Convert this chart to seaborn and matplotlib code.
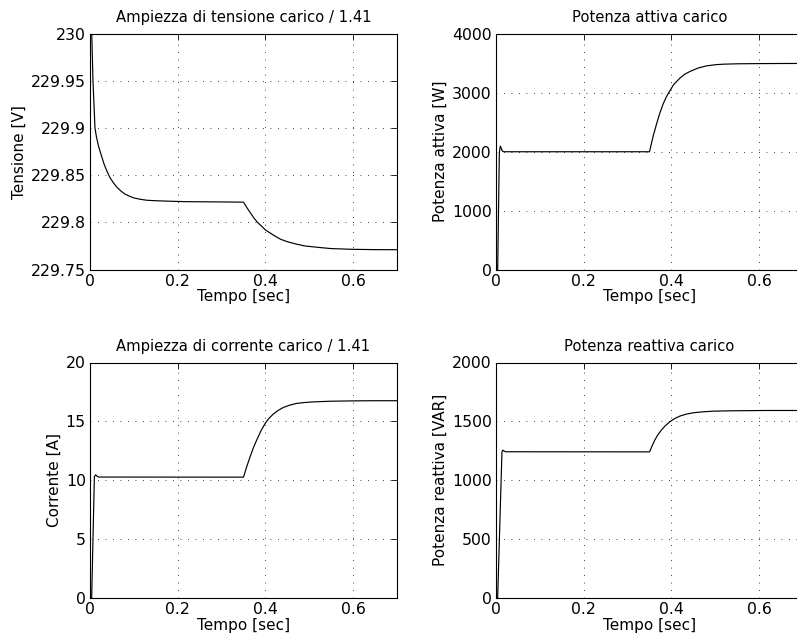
import matplotlib
matplotlib.use("Agg")
import matplotlib.pyplot as plt
from matplotlib.ticker import FuncFormatter
import seaborn as sns
import pandas as pd

# ---------------- data ----------------
V_t = [0.0, 0.004, 0.0068, 0.0114, 0.015, 0.02, 0.0266, 0.032, 0.038, 0.045,
       0.052, 0.06, 0.07, 0.08, 0.09, 0.1, 0.115, 0.13, 0.15, 0.18, 0.22, 0.28,
       0.35, 0.358, 0.366, 0.374, 0.382, 0.39, 0.40, 0.41, 0.42, 0.435, 0.45,
       0.47, 0.49, 0.52, 0.55, 0.6, 0.65, 0.7]
V = [231.0, 230.0, 229.95, 229.90, 229.89, 229.88, 229.870, 229.862, 229.855, 229.848,
     229.843, 229.838, 229.8335, 229.830, 229.8278, 229.826, 229.8245, 229.8235, 229.823,
     229.8225, 229.822, 229.8218, 229.8215, 229.8155, 229.810, 229.8045, 229.800,
     229.7965, 229.792, 229.789, 229.786, 229.782, 229.7795, 229.777, 229.775,
     229.7735, 229.7722, 229.7714, 229.7711, 229.771]

P_t = [0.0, 0.0038, 0.0076, 0.0098, 0.012, 0.014, 0.016, 0.02, 0.35, 0.358, 0.366,
       0.3734, 0.381, 0.3886, 0.396, 0.405, 0.419, 0.43, 0.4416, 0.46, 0.4795, 0.5,
       0.517, 0.55, 0.597, 0.65, 0.7]
P = [0, 0, 1980, 2096, 2060, 2020, 2003, 2000, 2000, 2255, 2470, 2653, 2810, 2936,
     3030, 3140, 3248, 3315, 3361, 3420, 3458, 3478, 3487, 3494, 3497, 3499, 3500]

I_t = [0.0, 0.0038, 0.01, 0.013, 0.016, 0.02, 0.35, 0.357, 0.365, 0.372, 0.38, 0.39,
       0.399, 0.408, 0.418, 0.43, 0.441, 0.455, 0.471, 0.49, 0.509, 0.55, 0.608,
       0.65, 0.7]
I = [0, 0, 10.3, 10.45, 10.33, 10.26, 10.25, 11.1, 11.98, 12.7, 13.4, 14.2, 14.8,
     15.25, 15.62, 15.95, 16.18, 16.37, 16.52, 16.6, 16.65, 16.71, 16.74, 16.75, 16.75]

Q_t = [0.0, 0.0038, 0.0136, 0.0155, 0.018, 0.022, 0.35, 0.355, 0.362, 0.369, 0.377,
       0.386, 0.396, 0.407, 0.419, 0.433, 0.449, 0.47, 0.494, 0.53, 0.615, 0.7]
Q = [0, 0, 1240, 1255, 1248, 1241, 1240, 1283, 1340, 1385, 1425, 1462, 1495, 1522,
     1544, 1560, 1572, 1580, 1586, 1589, 1592, 1592]

titles = ["Ampiezza di tensione carico / 1.41", "Potenza attiva carico",
          "Ampiezza di corrente carico / 1.41", "Potenza reattiva carico"]
ylabels = ["Tensione [V]", "Potenza attiva [W]", "Corrente [A]", "Potenza reattiva [VAR]"]
xlabel = "Tempo [sec]"
x_ticks = [0, 0.2, 0.4, 0.6]
y_ticks = [[229.75, 229.8, 229.85, 229.9, 229.95, 230],
           [0, 1000, 2000, 3000, 4000],
           [0, 5, 10, 15, 20],
           [0, 500, 1000, 1500, 2000]]

# ---------------- style ----------------
sns.set_style("white")
plt.rcParams['font.family'] = ['DejaVu Sans']
plt.rcParams['text.color'] = 'black'
plt.rcParams['axes.labelcolor'] = 'black'
plt.rcParams['xtick.color'] = 'black'
plt.rcParams['ytick.color'] = 'black'

fig = plt.figure(figsize=(7.97, 6.4), dpi=100)
W, H = 797, 640
# (left, top, right, bottom) in pixels
boxes = [(90, 34, 397, 269.5), (496, 34, 803, 269.5),
         (90, 362.5, 397, 597.7), (496, 362.5, 803, 597.7)]
series = [(V_t, V), (P_t, P), (I_t, I), (Q_t, Q)]

fmt = FuncFormatter(lambda v, p: "%g" % round(v, 4))

for k in range(4):
    l, t, r, b = boxes[k]
    ax = fig.add_axes([l / W, 1 - b / H, (r - l) / W, (b - t) / H])
    df = pd.DataFrame({"t": series[k][0], "y": series[k][1]})
    sns.lineplot(data=df, x="t", y="y", ax=ax, color="black", linewidth=0.85,
                 estimator=None, sort=False)
    ax.set_xlim(0, 0.7)
    ax.set_ylim(y_ticks[k][0], y_ticks[k][-1])
    ax.set_xticks(x_ticks)
    ax.set_yticks(y_ticks[k])
    ax.xaxis.set_major_formatter(fmt)
    ax.yaxis.set_major_formatter(fmt)
    ax.grid(True, color="black", linestyle=(0, (1, 8)), linewidth=0.6)
    ax.tick_params(direction="in", top=True, right=True, length=4, width=0.6,
                   labelsize=11.3, pad=3)
    for s in ax.spines.values():
        s.set_visible(True)
        s.set_color("black")
        s.set_linewidth(0.8)
    ax.set_title(titles[k], fontsize=10.6, pad=8.5)
    ax.set_xlabel(xlabel, fontsize=11, labelpad=0.5)
    ax.set_ylabel(ylabels[k], fontsize=11, labelpad=3)

fig.savefig("out.png", dpi=100)
